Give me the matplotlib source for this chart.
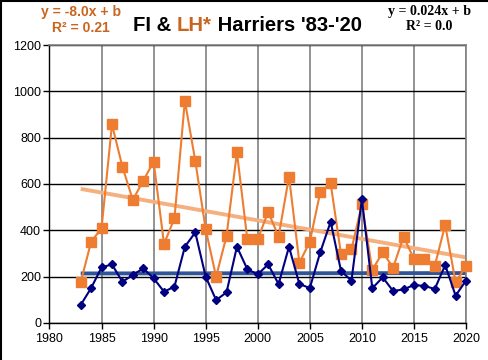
import numpy as np
import matplotlib
matplotlib.use("Agg")
import matplotlib.pyplot as plt
from matplotlib.lines import Line2D

years = list(range(1983, 2021))
lh = [176, 351, 409, 857, 675, 531, 614, 696, 341, 452, 959, 700, 404, 200, 375, 737, 361, 361,
      480, 373, 632, 260, 351, 564, 603, 296, 318, 512, 229, 305, 239, 373, 276, 276, 247, 423, 176, 246]
fi = [78, 151, 240, 253, 178, 207, 236, 193, 135, 157, 329, 391, 200, 99, 132, 329, 232, 210,
      253, 168, 329, 168, 151, 305, 437, 224, 183, 534, 150, 197, 138, 145, 164, 160, 147, 250, 118, 183]
x_ticks = list(range(1980, 2021, 5))
y_ticks = list(range(0, 1201, 200))

orange = "#EE7D31"
orange_txt = "#C8651E"
peach = "#F5B080"
navy = "#000080"
blue_trend = "#2F5597"

plt.rcParams['font.family'] = ['Liberation Sans', 'DejaVu Sans']

fig = plt.figure(figsize=(4.89, 3.6), dpi=100)
ax = fig.add_axes([0.1012, 0.1028, 0.8518, 0.7722])

yrs = np.array(years, dtype=float)
p_lh = np.polyfit(yrs, lh, 1)
p_fi = np.polyfit(yrs, fi, 1)

ax.plot(yrs, np.polyval(p_lh, yrs), color=peach, lw=2.8, zorder=2, solid_capstyle='butt')
ax.plot(yrs, np.polyval(p_fi, yrs), color=blue_trend, lw=2.8, zorder=2, solid_capstyle='butt')
ax.plot(yrs, lh, color=orange, lw=1.5, marker='s', ms=6.5, mfc=orange, mec=orange, zorder=3, clip_on=False)
ax.plot(yrs, fi, color=navy, lw=1.5, marker='D', ms=4.5, mfc=navy, mec=navy, zorder=4, clip_on=False)

ax.set_xlim(1980, 2020)
ax.set_ylim(0, 1200)
ax.set_xticks(x_ticks)
ax.set_yticks(y_ticks)
ax.tick_params(axis='both', labelsize=9, direction='out', length=4, width=1, color='black')
ax.tick_params(axis='x', pad=3)
ax.tick_params(axis='y', pad=2)
ax.grid(axis='x', color='#808080', lw=1.2)
ax.grid(axis='y', color='black', lw=1.0)
ax.set_axisbelow(True)
for s in ['left', 'bottom']:
    ax.spines[s].set_color('black')
    ax.spines[s].set_linewidth(1.0)
for s in ['top', 'right']:
    ax.spines[s].set_color('#808080')
    ax.spines[s].set_linewidth(1.2)

# title (multi-coloured)
ty = 0.928
fs = 14.6
t1 = fig.text(0.272, ty, "FI & ", fontsize=fs, fontweight='bold', color='black', ha='left', va='center')
fig.canvas.draw()
r = fig.canvas.get_renderer()
bb = t1.get_window_extent(r)
t2 = fig.text(bb.x1 / fig.bbox.width, ty, "LH*", fontsize=fs, fontweight='bold', color=orange_txt,
              ha='left', va='center')
bb2 = t2.get_window_extent(r)
fig.text(bb2.x1 / fig.bbox.width, ty, " Harriers '83-'20", fontsize=fs, fontweight='bold', color='black',
         ha='left', va='center')

# equations
fig.text(0.165, 0.966, "y = -8.0x + b", fontsize=10, fontweight='bold', color=orange_txt, ha='center', va='center')
fig.text(0.165, 0.923, "R² = 0.21", fontsize=10, fontweight='bold', color=orange_txt, ha='center', va='center')
fig.text(0.878, 0.968, "y = 0.024x + b", fontsize=10, fontweight='bold', color='black', ha='center', va='center',
         family=['Liberation Serif', 'DejaVu Serif'])
fig.text(0.878, 0.927, "R² = 0.0", fontsize=10, fontweight='bold', color='black', ha='center', va='center',
         family=['Liberation Serif', 'DejaVu Serif'])

# figure border (left and top visible)
fig.lines.append(Line2D([0.003, 0.003], [0, 1], transform=fig.transFigure, color='black', lw=1.5))
fig.lines.append(Line2D([0, 1], [0.997, 0.997], transform=fig.transFigure, color='black', lw=1.5))

fig.savefig("out.png", dpi=100)
